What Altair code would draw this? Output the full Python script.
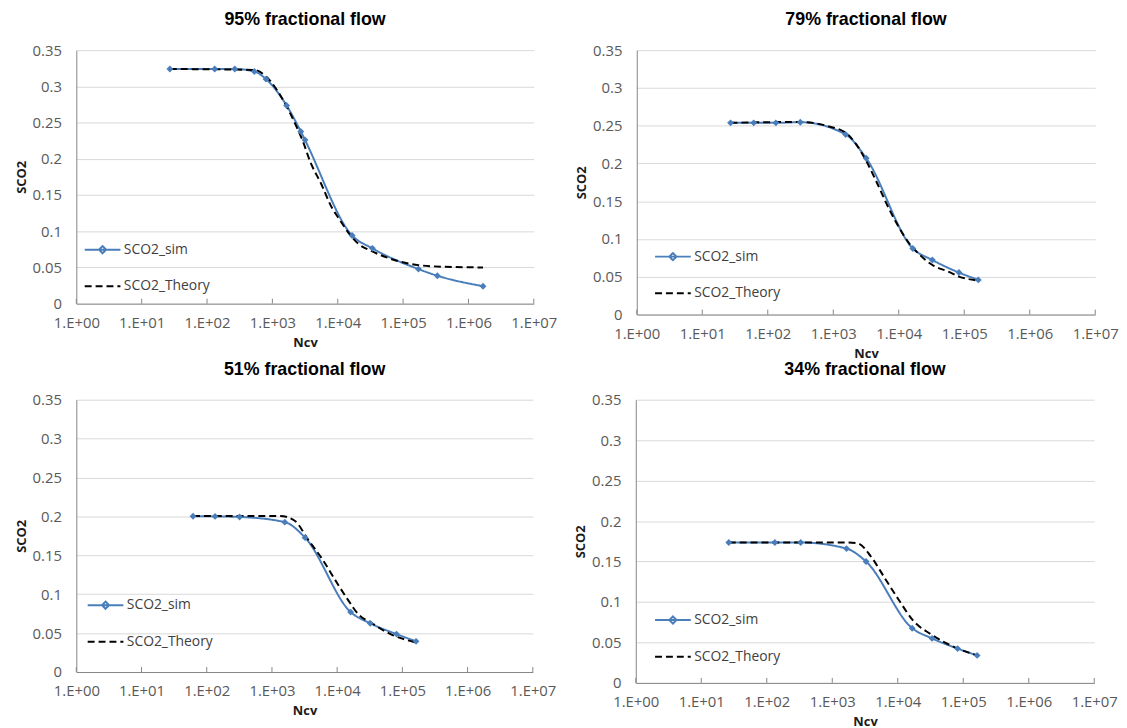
import altair as alt
import pandas as pd

SIM = "SCO2_sim"
THEORY = "SCO2_Theory"

titles = ["95% fractional flow", "79% fractional flow", "51% fractional flow", "34% fractional flow"]

# 95% fractional flow
tl_sim_x = [27, 131, 266, 530, 800, 1650, 2720, 3160, 16600, 33900, 172000, 334000, 1670000]
tl_sim_y = [0.324, 0.324, 0.324, 0.3205, 0.310, 0.2736, 0.2377, 0.2259, 0.0941, 0.0764, 0.0477, 0.0386, 0.0241]
tl_th_x = [27, 530, 800, 1590, 2310, 2970, 3810, 5550, 8200, 10350, 14700, 20800, 33100, 67500, 172000, 440000, 1670000]
tl_th_y = [0.324, 0.3227, 0.3136, 0.275, 0.2455, 0.2227, 0.1955, 0.1659, 0.132, 0.118, 0.0975, 0.0825, 0.0725, 0.0614, 0.0532, 0.0509, 0.050]

# 79% fractional flow
tr_sim_x = [27, 61, 133, 314, 1546, 3183, 16400, 32600, 83000, 164000]
tr_sim_y = [0.2538, 0.2538, 0.2538, 0.2546, 0.2384, 0.2069, 0.0875, 0.0722, 0.0556, 0.0459]
tr_th_x = [27, 314, 830, 1546, 2246, 3183, 4740, 6890, 10000, 14500, 21100, 32600, 57100, 83000, 164000]
tr_th_y = [0.2538, 0.255, 0.2494, 0.2406, 0.2253, 0.2034, 0.1728, 0.1422, 0.1159, 0.094, 0.0788, 0.0656, 0.0569, 0.0503, 0.0451]

# 51% fractional flow
bl_sim_x = [61.6, 134, 319, 1574, 3220, 16100, 32100, 81300, 162000]
bl_sim_y = [0.2002, 0.2, 0.1993, 0.1926, 0.1727, 0.077, 0.0626, 0.0487, 0.0394]
bl_th_x = [61.6, 1337, 2208, 3650, 6040, 9970, 14550, 21200, 32900, 65600, 158000]
bl_th_y = [0.2005, 0.2005, 0.1947, 0.1693, 0.1439, 0.1143, 0.0931, 0.0741, 0.0635, 0.0487, 0.0381]

# 34% fractional flow
br_sim_x = [26.3, 133, 330, 1650, 3280, 16600, 33400, 81900, 163000]
br_sim_y = [0.1735, 0.1735, 0.1735, 0.166, 0.150, 0.0676, 0.055, 0.0424, 0.034]
br_th_x = [26.3, 1650, 2490, 3850, 6350, 10450, 17200, 32100, 67900, 163000]
br_th_y = [0.1735, 0.1735, 0.1723, 0.1567, 0.1294, 0.1021, 0.0769, 0.0601, 0.0454, 0.034]

x_ticks = [1, 10, 100, 1000, 10000, 100000, 1000000, 10000000]
y_ticks = [0, 0.05, 0.1, 0.15, 0.2, 0.25, 0.3, 0.35]

BLUE = "#4A7EBB"
LABEL_FONT = "Open Sans"
DIAMOND_PATH = "M-1,0H1M0,-0.2L0.2,0L0,0.2L-0.2,0Z"


def panel(title, sx, sy, tx, ty, w, h, lx, ly):
    df = pd.DataFrame(
        {
            "ncv": list(sx) + list(tx),
            "sco2": list(sy) + list(ty),
            "series": [SIM] * len(sx) + [THEORY] * len(tx),
        }
    )
    ticks_df = pd.DataFrame({"ncv": x_ticks})

    x_enc = alt.X(
        "ncv:Q",
        scale=alt.Scale(type="log", domain=[1, 1e7], nice=False),
        axis=alt.Axis(
            values=x_ticks,
            labelExpr="'1.E+' + format(round(log(datum.value)/LN10), '02d')",
            grid=False,
            ticks=False,
            labelFlush=False,
            labelOverlap=False,
            labelPadding=12,
            title="Ncv",
            titlePadding=6,
        ),
    )
    y_enc = alt.Y(
        "sco2:Q",
        scale=alt.Scale(domain=[0, 0.35], nice=False),
        axis=alt.Axis(
            values=y_ticks,
            format="~g",
            grid=True,
            ticks=False,
            labelPadding=15,
            title="SCO2",
            titlePadding=4,
        ),
    )
    legend = alt.Legend(
        title=None,
        orient="none",
        legendX=lx,
        legendY=ly,
        symbolSize=1300,
        symbolStrokeWidth=2,
        symbolFillColor=BLUE,
        labelFont=LABEL_FONT,
        labelFontSize=14,
        labelColor="#404040",
        labelOffset=2,
        rowPadding=9,
        padding=0,
    )
    dom = [SIM, THEORY]
    color_enc = alt.Color("series:N", scale=alt.Scale(domain=dom, range=[BLUE, "#000000"]), legend=legend)
    lines = (
        alt.Chart(df)
        .mark_line(interpolate="monotone", strokeWidth=2)
        .encode(
            x=x_enc,
            y=y_enc,
            color=color_enc,
            strokeDash=alt.StrokeDash(
                "series:N", scale=alt.Scale(domain=dom, range=[[1, 0], [7, 4]]), legend=legend
            ),
            order=alt.Order("ncv:Q"),
        )
    )
    # empty layer that only supplies legend symbol shapes
    legend_layer = (
        alt.Chart(df)
        .transform_filter("false")
        .mark_point(filled=False, strokeWidth=2, opacity=1)
        .encode(
            x=x_enc,
            y=y_enc,
            shape=alt.Shape("series:N", scale=alt.Scale(domain=dom, range=[DIAMOND_PATH, "stroke"]), legend=legend),
            color=color_enc,
        )
    )
    pts = (
        alt.Chart(df)
        .transform_filter(alt.datum.series == SIM)
        .mark_point(shape="diamond", filled=True, size=48, opacity=1, color=BLUE)
        .encode(x=x_enc, y=y_enc)
    )
    tk = (
        alt.Chart(ticks_df)
        .mark_rule(color="#868686", strokeWidth=1)
        .encode(x=x_enc, y=alt.value(h - 5), y2=alt.value(h))
    )
    return alt.layer(tk, lines, legend_layer, pts).properties(
        width=w,
        height=h,
        title=alt.TitleParams(
            title,
            font="Liberation Sans",
            fontSize=18,
            fontWeight="bold",
            color="#000000",
            anchor="middle",
            offset=14,
        ),
    )


def indep(c):
    return c.resolve_scale(color="independent", strokeDash="independent", shape="independent").resolve_legend(
        color="independent", strokeDash="independent", shape="independent"
    )


p1 = panel(titles[0], tl_sim_x, tl_sim_y, tl_th_x, tl_th_y, 462, 256, 7, 182)
p2 = panel(titles[1], tr_sim_x, tr_sim_y, tr_th_x, tr_th_y, 463, 267, 17, 189)
p3 = panel(titles[2], bl_sim_x, bl_sim_y, bl_th_x, bl_th_y, 461, 275, 10, 188)
p4 = panel(titles[3], br_sim_x, br_sim_y, br_th_x, br_th_y, 463, 286, 18, 203)

top = indep(alt.hconcat(p1, p2, spacing=18))
bottom = indep(alt.hconcat(p3, p4, spacing=18))

chart = (
    indep(alt.vconcat(top, bottom, spacing=1))
    .properties(padding={"left": 7, "top": 0, "right": 0, "bottom": 0}, background="white")
    .configure_view(stroke=None)
    .configure_axis(
        labelFont=LABEL_FONT,
        labelFontSize=15,
        labelColor="#595959",
        titleFont=LABEL_FONT,
        titleFontSize=13,
        titleFontWeight="bold",
        titleColor="#1a1a1a",
        domainColor="#868686",
        gridColor="#D9D9D9",
        gridWidth=1,
    )
)

chart.save("out.html", embed_options={"renderer": "svg", "actions": False})
